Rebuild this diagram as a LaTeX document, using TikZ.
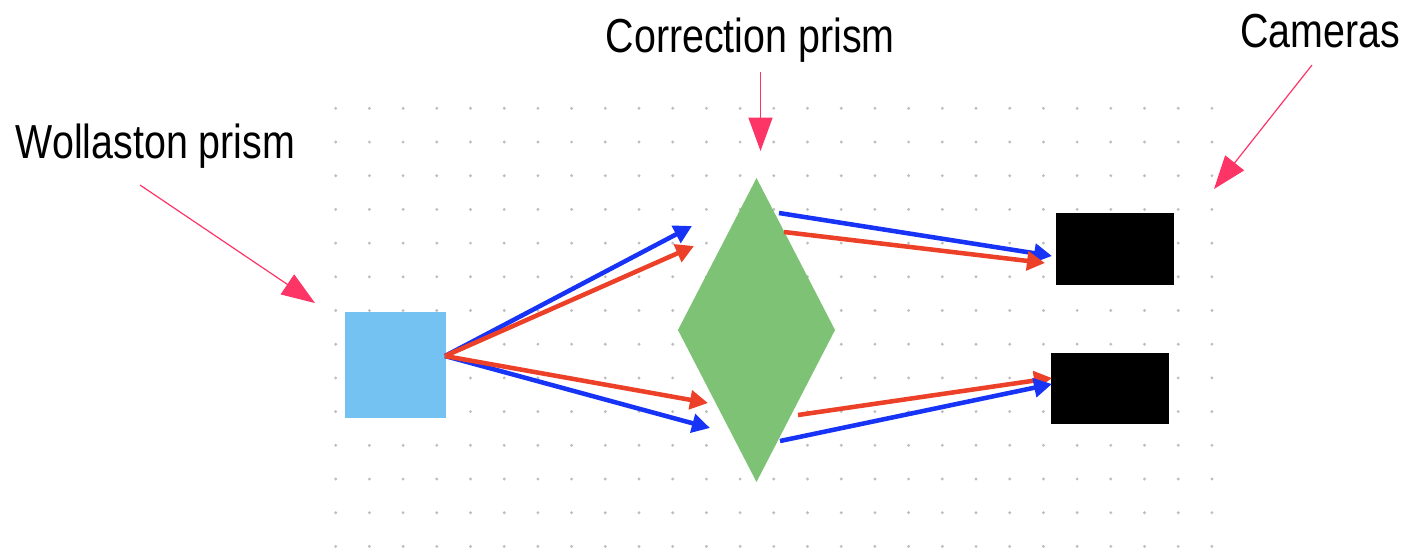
\documentclass[tikz,border=0pt]{standalone}
\usepackage{fontspec}
\setmainfont[FakeStretch=0.825]{Liberation Sans}
\usetikzlibrary{arrows.meta,shapes.geometric}
\definecolor{wollaston}{HTML}{74C2F2}
\definecolor{correction}{HTML}{7EC375}
\definecolor{beamblue}{HTML}{1733F5}
\definecolor{beamred}{HTML}{EC4128}
\definecolor{pointer}{HTML}{FD3566}
\definecolor{griddot}{HTML}{BDBDBD}

\begin{document}
\begin{tikzpicture}[
  x=0.75pt, y=-0.75pt,
  lbl/.style={anchor=base west, inner sep=0pt, font=\fontsize{35.8}{40}\selectfont},
  block/.style={draw=none, inner sep=0pt, outer sep=0pt},
  cam/.style={block, fill=black, minimum width=88pt, minimum height=53.8pt},
  beam/.style={-{Triangle[length=13.5pt, width=14pt]}, line width=3.4pt},
  blue/.style={beam, draw=beamblue, color=beamblue},
  red/.style={beam, draw=beamred, color=beamred},
  ptr/.style={-{Triangle[length=25pt, width=18pt]}, line width=0.9pt, draw=pointer, color=pointer},
]
\useasboundingbox (0,0) rectangle (1402,547);

% Dot grid
\foreach \i in {0,...,26}
  \foreach \j in {0,...,13}
    \fill[griddot] ({335.7+33.7*\i},{108.3+33.7*\j}) circle (1.2pt);

% Optics
\node[block, fill=wollaston, minimum width=76pt, minimum height=79.5pt] (wp) at (395.5,365) {};
\node[block, fill=correction, diamond, aspect=0.516, minimum width=117.8pt, minimum height=228pt] (cp) at (756.5,330) {};
\node[cam] (cam1) at (1115,249.2) {};
\node[cam] (cam2) at (1110,388.6) {};

% Labels
\node[lbl] (wplabel) at (15.5,158) {Wollaston prism};
\node[lbl] (cplabel) at (605.5,52) {Correction prism};
\node[lbl] (camlabel) at (1240,47) {Cameras};

% Beam ends
\coordinate (wpout) at (445,356);
\coordinate (b1end) at (692,226);
\coordinate (r1end) at (694,246);
\coordinate (r2end) at (708,403);
\coordinate (b2end) at (710,428);
\coordinate (b1out) at (779,213);
\coordinate (r1out) at (784,232);
\coordinate (r2out) at (798,415);
\coordinate (b2out) at (780,441);
\coordinate (b1cam) at (1052,256);
\coordinate (r1cam) at (1045,263);
\coordinate (r2cam) at (1052,378);
\coordinate (b2cam) at (1052,384);

% Beams
\draw[blue] (wpout) -- (b1end);
\draw[blue] (wpout) -- (b2end);
\draw[red] (wpout) -- (r1end);
\draw[red] (wpout) -- (r2end);
\draw[blue] (b1out) -- (b1cam);
\draw[red] (r1out) -- (r1cam);
\draw[red] (r2out) -- (r2cam);
\draw[blue] (b2out) -- (b2cam);

% Pointers
\coordinate (wpfrom) at (140,185);
\coordinate (wpto) at (315,303);
\coordinate (cpfrom) at (760.5,72);
\coordinate (cpto) at (760.5,151);
\coordinate (camfrom) at (1312,65);
\coordinate (camto) at (1214,189);
\draw[ptr] (wpfrom) -- (wpto);
\draw[ptr] (cpfrom) -- (cpto);
\draw[ptr] (camfrom) -- (camto);

\end{tikzpicture}
\end{document}
